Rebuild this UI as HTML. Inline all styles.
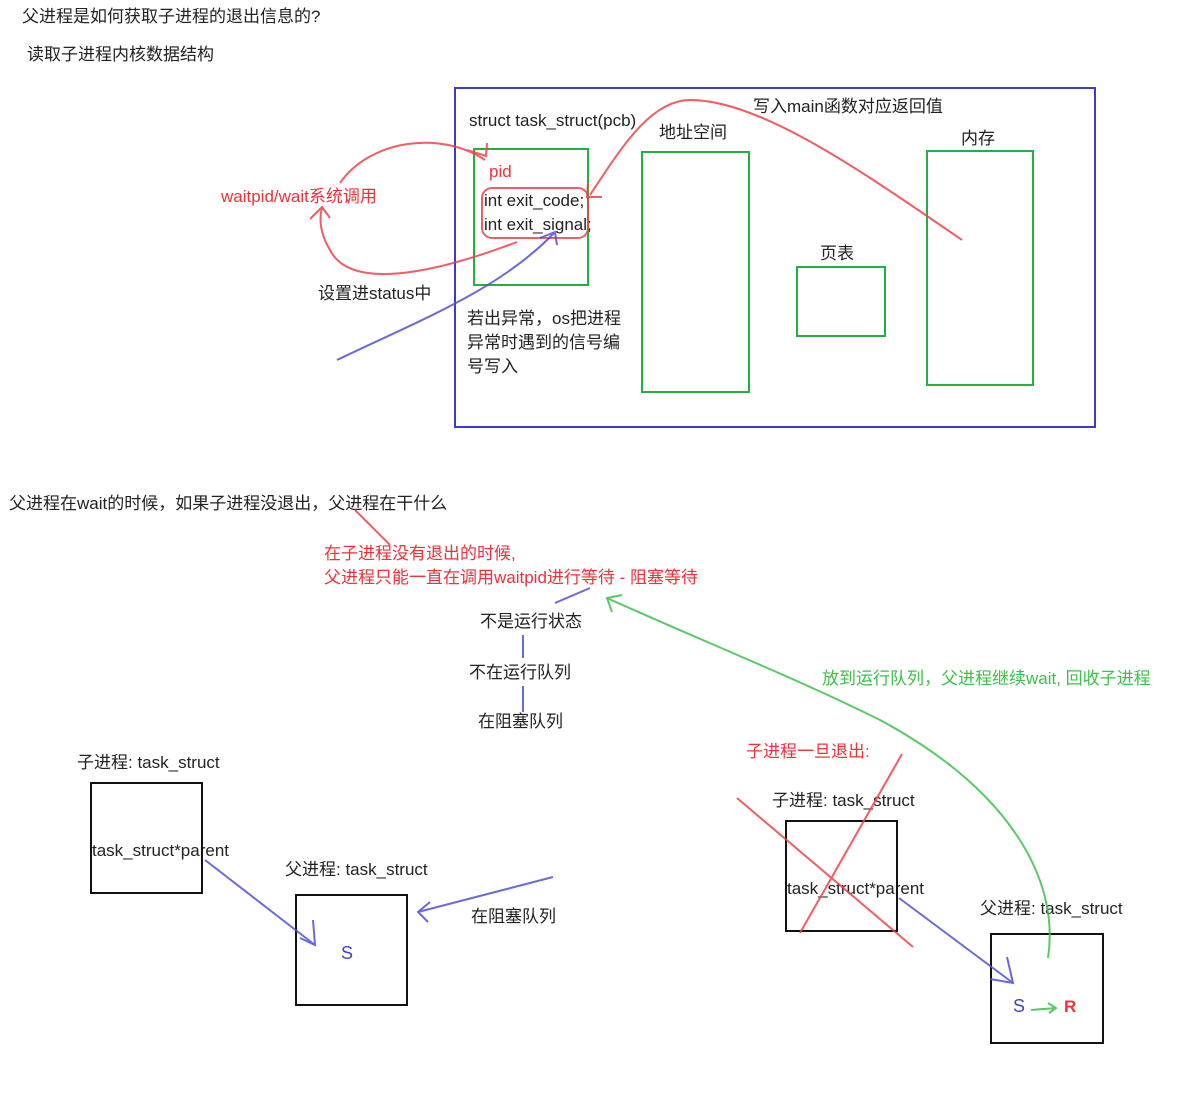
<!DOCTYPE html>
<html><head><meta charset="utf-8"><style>
body{margin:0;background:#fff;}
svg{display:block;font-family:"Liberation Sans","Noto Sans CJK SC",sans-serif;font-size:17px;}
</style></head><body>
<svg width="1198" height="1118" viewBox="0 0 1198 1118">
<g fill="#222">
<text x="22" y="22">父进程是如何获取子进程的退出信息的?</text>
<text x="27" y="60">读取子进程内核数据结构</text>
<text x="469" y="126">struct task_struct(pcb)</text>
<text x="659" y="138">地址空间</text>
<text x="753" y="112">写入main函数对应返回值</text>
<text x="961" y="144">内存</text>
<text x="820" y="259">页表</text>
<text x="484" y="206">int exit_code;</text>
<text x="484" y="230">int exit_signal;</text>
<text x="467" y="324">若出异常，os把进程</text>
<text x="467" y="348">异常时遇到的信号编</text>
<text x="467" y="372">号写入</text>
<text x="318" y="299">设置进status中</text>
<text x="9" y="509">父进程在wait的时候，如果子进程没退出，父进程在干什么</text>
<text x="480" y="627">不是运行状态</text>
<text x="469" y="678">不在运行队列</text>
<text x="478" y="727">在阻塞队列</text>
<text x="77" y="768">子进程: task_struct</text>
<text x="92" y="856">task_struct*parent</text>
<text x="285" y="875">父进程: task_struct</text>
<text x="471" y="922">在阻塞队列</text>
<text x="772" y="806">子进程: task_struct</text>
<text x="787" y="894">task_struct*parent</text>
<text x="980" y="914">父进程: task_struct</text>
</g>
<g fill="#f0303a">
<text x="489" y="177">pid</text>
<text x="221" y="202">waitpid/wait系统调用</text>
<text x="324" y="559">在子进程没有退出的时候,</text>
<text x="324" y="583">父进程只能一直在调用waitpid进行等待 - 阻塞等待</text>
<text x="746" y="757">子进程一旦退出:</text>
<text x="1064" y="1012" font-weight="bold">R</text>
</g>
<text x="822" y="684" fill="#3cc04a">放到运行队列，父进程继续wait, 回收子进程</text>
<text x="341" y="959" fill="#4040d0" font-size="18">S</text>
<text x="1013" y="1012" fill="#4040d0" font-size="18">S</text>

<rect x="455" y="88" width="640" height="339" fill="none" stroke="#3b3bd0" stroke-width="2"/>
<g fill="none" stroke="#22b040" stroke-width="2">
<rect x="474" y="149" width="114" height="136"/>
<rect x="642" y="152" width="107" height="240"/>
<rect x="927" y="151" width="106" height="234"/>
<rect x="797" y="267" width="88" height="69"/>
</g>
<g fill="none" stroke="#111" stroke-width="2">
<rect x="91" y="783" width="111" height="110"/>
<rect x="296" y="895" width="111" height="110"/>
<rect x="786" y="821" width="111" height="110"/>
<rect x="991" y="934" width="112" height="109"/>
</g>
<g fill="none" stroke="#f0404a" stroke-width="2" opacity="0.85">
<rect x="482" y="188" width="106" height="50" rx="10"/>
<path d="M340,183 C370,140 440,130 485,160"/>
<path d="M467,150 L486,156 L487,143"/>
<path d="M517,242 C430,275 350,290 330,250 C318,230 320,215 322,207"/>
<path d="M310,219 L322,207 L330,218"/>
<path d="M962,240 C860,170 760,100 690,100 C650,100 620,150 590,195"/>
<path d="M588,183 L587,197 L602,197"/>
<path d="M355,510 L390,545"/>
<path d="M737,798 L913,947"/>
<path d="M902,754 L800,933"/>
</g>
<g fill="none" stroke="#5050d8" stroke-width="2" opacity="0.85">
<path d="M337,360 C420,320 500,290 555,232"/>
<path d="M540,238 L555,232 L557,245"/>
<path d="M555,603 L590,588"/>
<path d="M523,635 L523,658 M523,686 L523,712"/>
<path d="M205,860 L315,945"/>
<path d="M300,938 L315,945 L313,920"/>
<path d="M553,877 L418,912"/>
<path d="M430,902 L418,912 L428,922"/>
<path d="M899,898 L1013,983"/>
<path d="M990,979 L1013,983 L1007,957"/>
</g>
<g fill="none" stroke="#3cc04a" stroke-width="2" opacity="0.85">
<path d="M1048,958 C1060,880 1010,790 880,720 C800,680 700,640 607,598"/>
<path d="M612,612 L607,598 L622,595"/>
<path d="M1031,1010 L1056,1008 M1048,1003 L1056,1008 L1049,1013"/>
</g>
</svg>
</body></html>
